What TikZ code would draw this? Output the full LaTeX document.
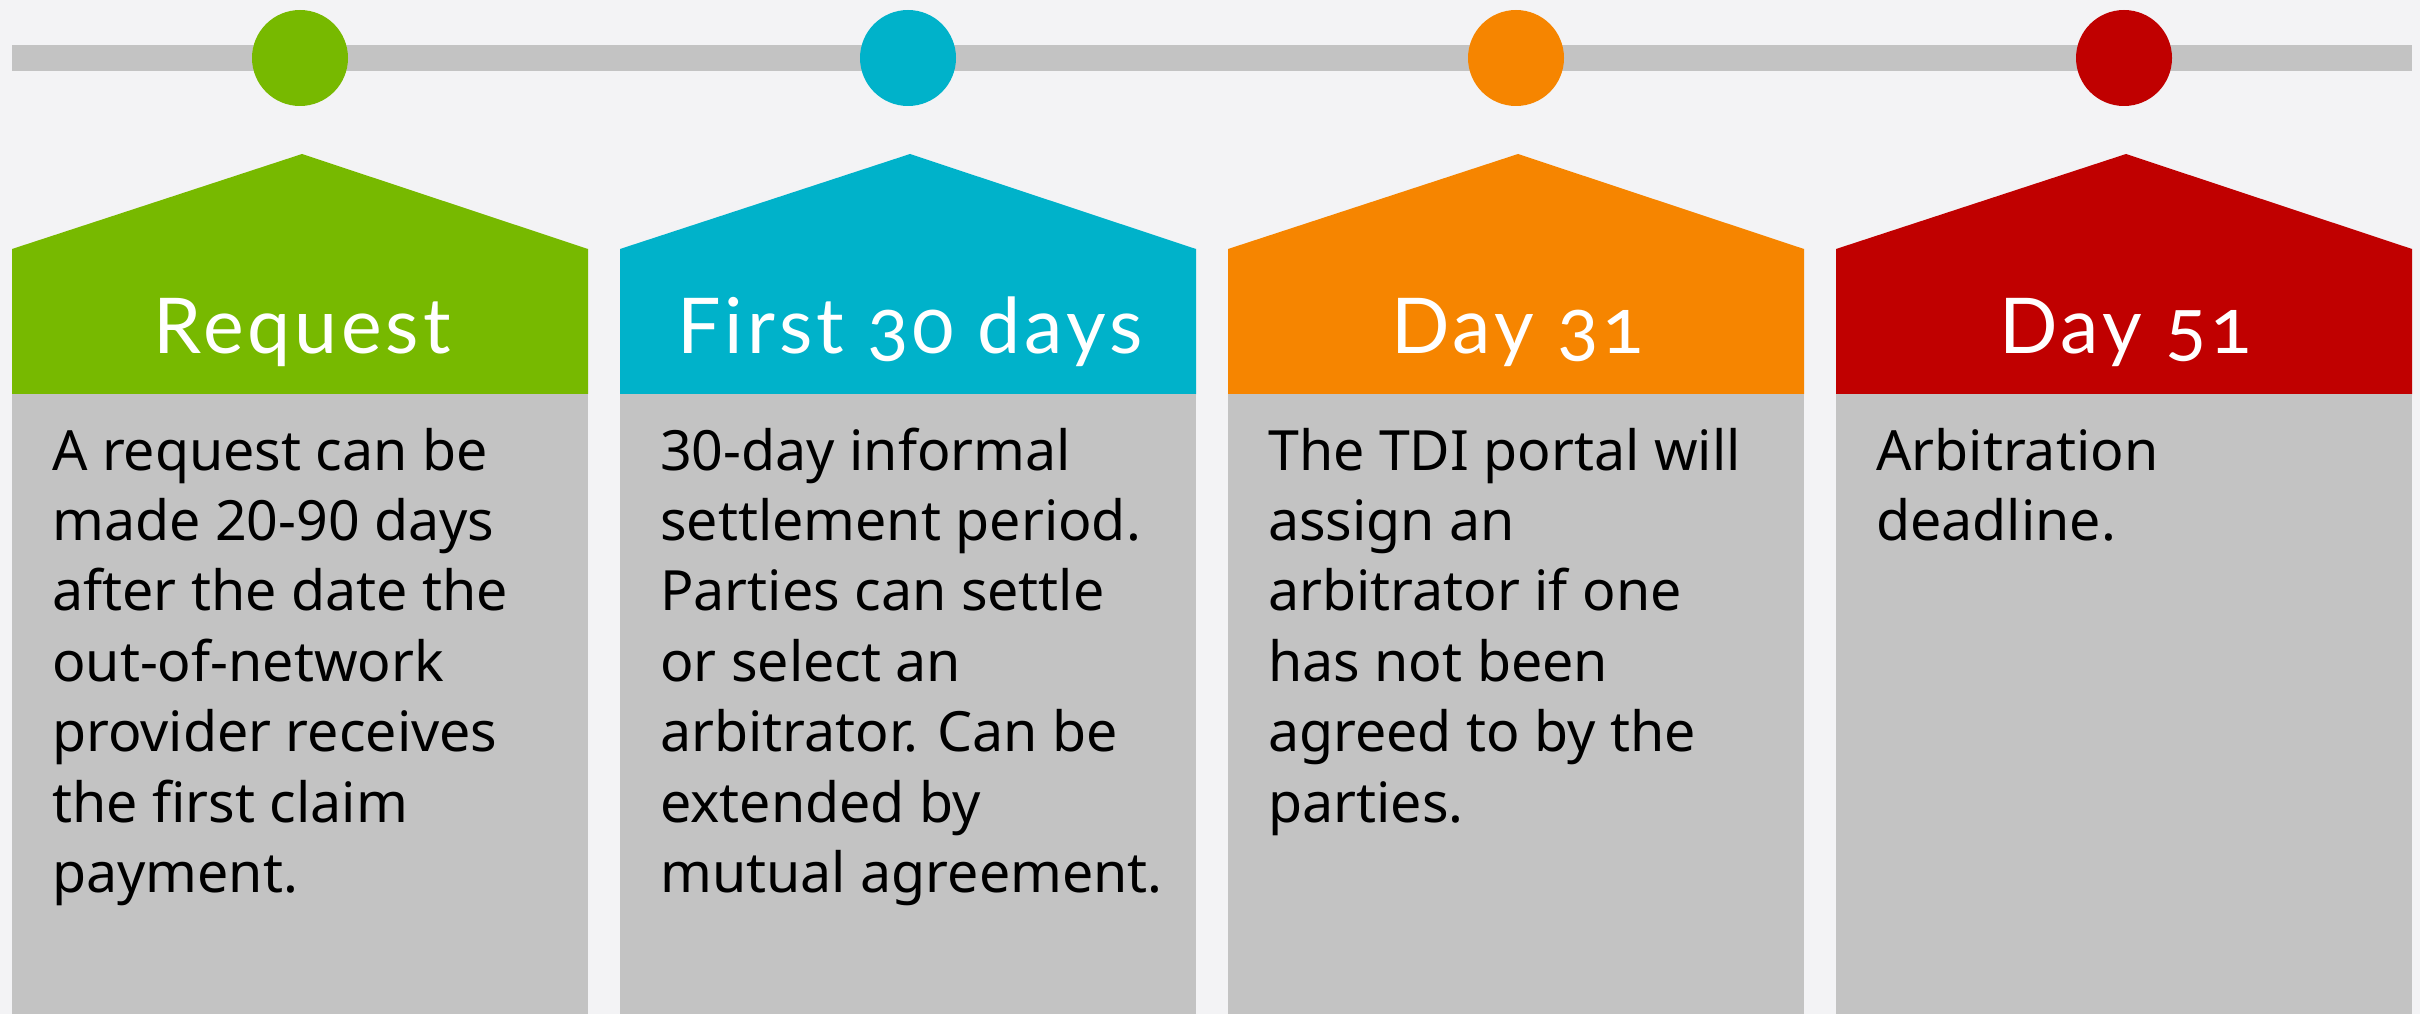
\documentclass[tikz,border=0pt]{standalone}
\usepackage{fontspec}
\setmainfont{Noto Sans}
\newfontfamily\headfont[Numbers=OldStyle,LetterSpace=5]{Lato}
\definecolor{bgc}{HTML}{F3F3F5}
\definecolor{barc}{HTML}{C3C3C3}
\definecolor{cgreen}{HTML}{77B900}
\definecolor{cblue}{HTML}{00B2CA}
\definecolor{corange}{HTML}{F68500}
\definecolor{cred}{HTML}{C00000}
\tikzset{
  dot/.style={circle, minimum size=96pt, inner sep=0pt, fill=#1},
  headtxt/.style={anchor=base, text=white, inner sep=0pt, font=\headfont\fontsize{77}{80}\selectfont},
  bodytxt/.style={anchor=base west, align=left, inner sep=0pt, text=black, font=\fontsize{55.5}{70.4}\selectfont},
}
\begin{document}
\begin{tikzpicture}[x=1pt,y=-1pt]
\fill[bgc] (0,0) rectangle (2420,1014);
\useasboundingbox (0,0) rectangle (2420,1014);
\fill[barc] (12,45) rectangle (2412,71);
\foreach \i/\c in {0/cgreen,1/cblue,2/corange,3/cred}{
  \pgfmathsetmacro{\L}{12+608*\i}
  \pgfmathsetmacro{\R}{\L+576}
  \pgfmathsetmacro{\M}{\L+288}
  \fill[\c] (\L,394) -- (\L,249) -- (\M+2,154) -- (\R,249) -- (\R,394) -- cycle;
  \fill[barc] (\L,394) rectangle (\R,1014);
  \node[dot=\c] (c\i) at (\M,58) {};
}
\node[headtxt] (h0) at (302,353) {Request};
\node[headtxt] (h1) at (910,353) {First 30 days};
\node[headtxt] (h2) at (1518,353) {Day 31};
\node[headtxt] (h3) at (2126,353) {Day 51};
% base anchor = baseline of last line; first baseline at y=470, step 70.4
\node[bodytxt] (t0) at (52,892.4) {A request can be\\made 20-90 days\\after the date the\\out-of-network\\provider receives\\the first claim\\payment.};
\node[bodytxt] (t1) at (660,892.4) {30-day informal\\settlement period.\\Parties can settle\\or select an\\arbitrator. Can be\\extended by\\mutual agreement.};
\node[bodytxt] (t2) at (1268,822) {The TDI portal will\\assign an\\arbitrator if one\\has not been\\agreed to by the\\parties.};
\node[bodytxt] (t3) at (1876,540.4) {Arbitration\\deadline.};
\end{tikzpicture}
\end{document}
